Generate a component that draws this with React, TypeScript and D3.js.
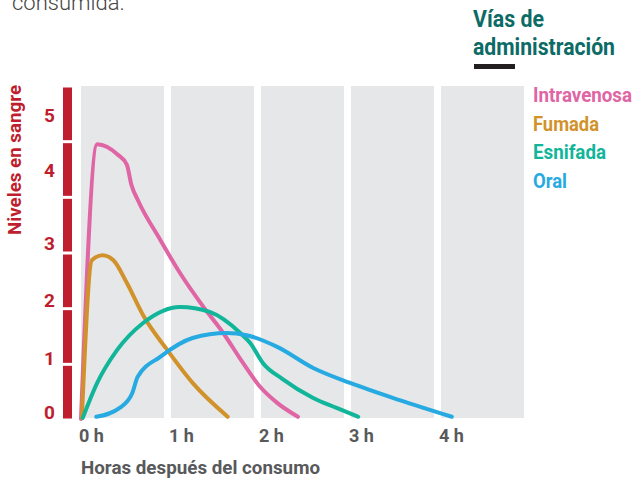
import React from "react";
import * as d3 from "d3";

const xTickLabels = ["0 h", "1 h", "2 h", "3 h", "4 h"];
const yTickLabels = ["0", "1", "2", "3", "4", "5"];
const yTickValues = [0, 0.98, 2.02, 3.05, 4.36, 5.35];
const seriesNames = ["Intravenosa", "Fumada", "Esnifada", "Oral"];
const seriesColors = ["#df65a5", "#d1922b", "#11b59a", "#27aae1"];

const intravenosa: [number, number][] = [
  [0.0, 0.0], [0.18, 4.95], [0.41, 4.76], [0.51, 4.58], [0.56, 4.22], [0.63, 3.95],
  [0.88, 3.23], [1.1, 2.63], [1.36, 2.02], [1.58, 1.55], [1.8, 1.01], [1.99, 0.58],
  [2.18, 0.29], [2.41, 0.04],
];
const fumada: [number, number][] = [
  [0.01, 0.02], [0.12, 2.86], [0.24, 2.95], [0.36, 2.86], [0.51, 2.45], [0.69, 1.87],
  [0.96, 1.24], [1.24, 0.65], [1.63, 0.04],
];
const esnifada: [number, number][] = [
  [0.02, 0.02], [0.18, 0.65], [0.4, 1.24], [0.69, 1.73], [1.1, 2.02], [1.43, 1.93],
  [1.77, 1.55], [1.88, 1.37], [2.02, 1.01], [2.24, 0.72], [2.58, 0.38], [2.84, 0.2], [3.08, 0.04],
];
const oral: [number, number][] = [
  [0.17, 0.04], [0.43, 0.2], [0.57, 0.47], [0.63, 0.76], [0.88, 1.12], [1.24, 1.46],
  [1.62, 1.55], [1.84, 1.51], [2.18, 1.3], [2.58, 0.92], [2.99, 0.65], [3.54, 0.34], [4.12, 0.04],
];
const seriesData = [intravenosa, fumada, esnifada, oral];

const FONT = "Roboto, 'Liberation Sans', sans-serif";
const RED = "#be1e2d";
const GREY = "#58595b";

export default function App() {
  const x = d3.scaleLinear().domain([0, 1]).range([81, 171]);
  const y = d3.scaleLinear().domain([0, 6]).range([419, 86]);
  const ySeg = d3.scaleLinear().domain([0, 6]).range([420, 86]);
  const line = d3
    .line<[number, number]>()
    .x((d) => x(d[0]))
    .y((d) => y(d[1]))
    .curve(d3.curveMonotoneX);
  const bandW = 83;
  const legendW = [99, 66, 73, 34];

  return (
    <svg
      width={634}
      height={479}
      style={{ position: "absolute", left: 0, top: 0, background: "#fff" }}
      fontFamily={FONT}
    >
      <text x={12} y={10} fontSize={22} fontWeight={300} fill="#444">consumida.</text>

      {xTickLabels.map((_, i) => (
        <rect key={i} x={x(i)} y={86} width={bandW} height={332} fill="#e6e7e8" />
      ))}

      {d3.range(6).map((i) => (
        <rect
          key={i}
          x={63}
          y={ySeg(i + 1) + 1.5}
          width={9}
          height={ySeg(i) - ySeg(i + 1) - 3}
          fill={RED}
        />
      ))}

      {yTickLabels.map((t, i) => (
        <text key={t} x={49.5} y={y(yTickValues[i])} textAnchor="middle" fontSize={19} fontWeight={700} fill={RED}>
          {t}
        </text>
      ))}

      <text
        transform="translate(21,235) rotate(-90)"
        fontSize={19}
        fontWeight={700}
        fill={RED}
        textLength={150}
        lengthAdjust="spacingAndGlyphs"
      >
        Niveles en sangre
      </text>

      {xTickLabels.map((t, i) => (
        <text key={t} x={x(i) - 2} y={442} fontSize={18} fontWeight={700} fill={GREY}>
          {t}
        </text>
      ))}
      <text x={81} y={474} fontSize={19} fontWeight={700} fill={GREY} textLength={239} lengthAdjust="spacingAndGlyphs">
        Horas después del consumo
      </text>

      {seriesData.map((d, i) => (
        <path
          key={i}
          d={line(d) || ""}
          fill="none"
          stroke={seriesColors[i]}
          strokeWidth={4}
          strokeLinecap="round"
          strokeLinejoin="round"
        />
      ))}

      <text x={473} y={27} fontSize={23.5} fontWeight={700} fill="#0d6b66" textLength={71} lengthAdjust="spacingAndGlyphs">
        Vías de
      </text>
      <text x={473} y={55} fontSize={23.5} fontWeight={700} fill="#0d6b66" textLength={142} lengthAdjust="spacingAndGlyphs">
        administración
      </text>
      <rect x={474} y={64} width={41} height={5} fill="#231f20" />

      {seriesNames.map((n, i) => (
        <text
          key={n}
          x={533}
          y={102 + i * 28.5}
          fontSize={20.5}
          fontWeight={700}
          fill={seriesColors[i]}
          textLength={legendW[i]}
          lengthAdjust="spacingAndGlyphs"
        >
          {n}
        </text>
      ))}
    </svg>
  );
}
